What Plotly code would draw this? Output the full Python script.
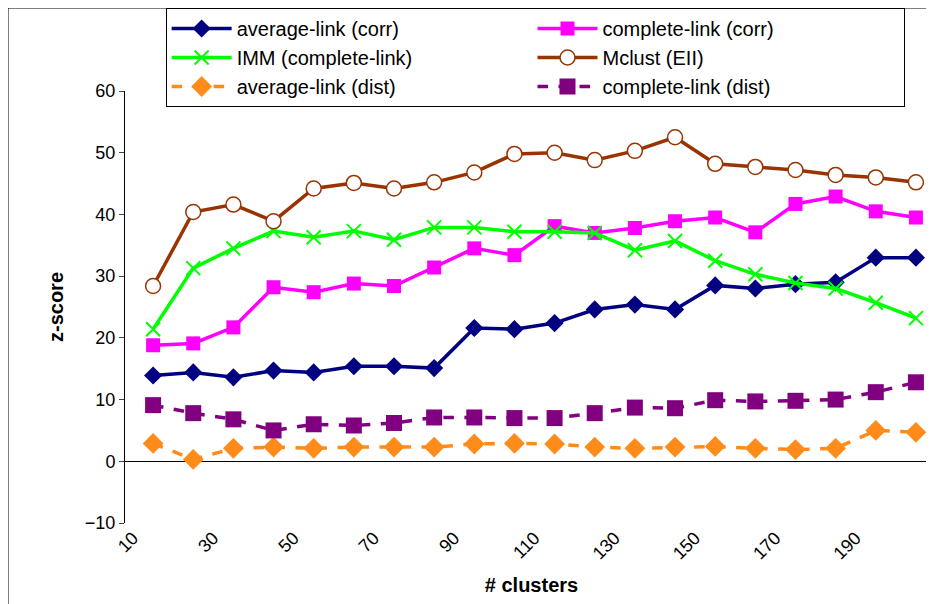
import plotly.graph_objects as go

x = [15,25,35,45,55,65,75,85,95,105,115,125,135,145,155,165,175,185,195,205]
avg_corr = [13.9,14.4,13.6,14.7,14.4,15.4,15.4,15.1,21.6,21.4,22.4,24.6,25.4,24.6,28.5,28.0,28.7,29.0,33.0,33.0]
comp_corr = [18.8,19.1,21.7,28.2,27.4,28.8,28.4,31.4,34.5,33.4,38.1,37.0,37.8,38.9,39.5,37.1,41.7,42.9,40.5,39.5]
imm = [21.4,31.3,34.5,37.3,36.3,37.3,35.9,37.9,37.9,37.2,37.2,37.0,34.2,35.7,32.5,30.3,28.9,28.0,25.7,23.2]
mclust = [28.4,40.4,41.6,38.9,44.2,45.1,44.2,45.2,46.8,49.8,50.0,48.8,50.3,52.5,48.2,47.7,47.2,46.4,46.0,45.2]
avg_dist = [2.9,0.3,2.1,2.3,2.1,2.3,2.3,2.3,2.8,2.9,2.8,2.3,2.1,2.3,2.4,2.1,1.9,2.1,5.0,4.7]
comp_dist = [9.1,7.8,6.8,5.0,6.0,5.8,6.2,7.1,7.1,7.0,7.0,7.8,8.7,8.6,9.9,9.7,9.8,10.0,11.2,12.8]

fig = go.Figure()
def add(name, y, color, symbol, size, dash="solid", fill=None, lw=0):
    fig.add_trace(go.Scatter(x=x, y=y, name=name, mode="lines+markers", cliponaxis=False,
        line=dict(color=color, width=3.5, dash=dash),
        marker=dict(symbol=symbol, size=size, color=fill or color,
                    line=dict(color=color, width=lw))))
add("average-link (corr)", avg_corr, "#000080", "diamond", 14)
add("complete-link (corr)", comp_corr, "#FF00FF", "square", 14)
add("IMM (complete-link)", imm, "#00FF00", "x-thin", 14, lw=2)
add("Mclust (EII)", mclust, "#993300", "circle", 15, fill="white", lw=1.5)
add("average-link (dist)", avg_dist, "#FF8C1A", "diamond", 16, dash="dash")
add("complete-link (dist)", comp_dist, "#800080", "square", 16, dash="dash")

H = 604 - 83 - 89
fig.update_layout(
    width=934, height=604, paper_bgcolor="white", plot_bgcolor="white",
    margin=dict(l=117, r=4, t=83, b=89, autoexpand=False),
    font=dict(family="Arial, Liberation Sans", size=18, color="black"),
    legend=dict(orientation="h", x=0.05, y=1 + 83 / H, xanchor="left", yanchor="top",
                entrywidth=0.45, entrywidthmode="fraction", bgcolor="white",
                bordercolor="black", borderwidth=1, font=dict(size=20),
                tracegroupgap=0, itemwidth=60),
    shapes=[dict(type="rect", xref="paper", yref="paper", x0=-117 / 813, x1=1,
                 y0=-86 / H, y1=1 + 83 / H, line=dict(color="black", width=1))],
)
fig.update_xaxes(range=[8, 210.5], tickvals=list(range(10, 200, 20)), tickangle=-45,
                 showgrid=False, showline=False, zeroline=False, ticks="",
                 title=dict(text="<b># clusters</b>", font=dict(size=20)),
                 tickfont=dict(size=18))
fig.update_yaxes(range=[-10, 60], dtick=10, showgrid=False, showline=True,
                 linecolor="black", linewidth=1, ticks="outside", ticklen=5,
                 zeroline=True, zerolinecolor="black", zerolinewidth=1,
                 title=dict(text="<b>z-score</b>", font=dict(size=20)),
                 tickfont=dict(size=18))
fig.write_html("out.html")
